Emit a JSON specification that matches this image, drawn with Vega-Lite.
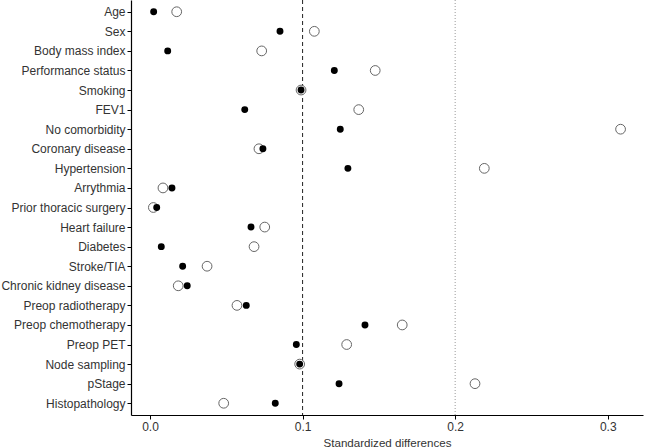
{
  "$schema": "https://vega.github.io/schema/vega-lite/v6.json",
  "autosize": {"type": "none"},
  "padding": {"left": 131, "top": 0, "right": 3, "bottom": 33},
  "width": 512,
  "height": 415,
  "background": "white",
  "config": {
    "view": {"stroke": null},
    "font": "Liberation Sans",
    "axis": {"grid": false, "domainColor": "black", "tickColor": "black", "labelColor": "#333333", "labelFontSize": 12, "titleFontSize": 11.6, "titleFontWeight": "normal", "titleColor": "#333333", "tickSize": 4, "domainWidth": 1.2}
  },
  "datasets": {
    "sd": [
      {"variable": "Age", "group": "before", "value": 0.0175},
      {"variable": "Age", "group": "after", "value": 0.0024},
      {"variable": "Sex", "group": "before", "value": 0.1077},
      {"variable": "Sex", "group": "after", "value": 0.0852},
      {"variable": "Body mass index", "group": "before", "value": 0.0732},
      {"variable": "Body mass index", "group": "after", "value": 0.0116},
      {"variable": "Performance status", "group": "before", "value": 0.1476},
      {"variable": "Performance status", "group": "after", "value": 0.1208},
      {"variable": "Smoking", "group": "before", "value": 0.099},
      {"variable": "Smoking", "group": "after", "value": 0.099},
      {"variable": "FEV1", "group": "before", "value": 0.1368},
      {"variable": "FEV1", "group": "after", "value": 0.0621},
      {"variable": "No comorbidity", "group": "before", "value": 0.3084},
      {"variable": "No comorbidity", "group": "after", "value": 0.1247},
      {"variable": "Coronary disease", "group": "before", "value": 0.0714},
      {"variable": "Coronary disease", "group": "after", "value": 0.074},
      {"variable": "Hypertension", "group": "before", "value": 0.2191},
      {"variable": "Hypertension", "group": "after", "value": 0.1297},
      {"variable": "Arrythmia", "group": "before", "value": 0.0085},
      {"variable": "Arrythmia", "group": "after", "value": 0.0144},
      {"variable": "Prior thoracic surgery", "group": "before", "value": 0.0022},
      {"variable": "Prior thoracic surgery", "group": "after", "value": 0.0044},
      {"variable": "Heart failure", "group": "before", "value": 0.0752},
      {"variable": "Heart failure", "group": "after", "value": 0.0662},
      {"variable": "Diabetes", "group": "before", "value": 0.0682},
      {"variable": "Diabetes", "group": "after", "value": 0.0074},
      {"variable": "Stroke/TIA", "group": "before", "value": 0.0374},
      {"variable": "Stroke/TIA", "group": "after", "value": 0.0214},
      {"variable": "Chronic kidney disease", "group": "before", "value": 0.0185},
      {"variable": "Chronic kidney disease", "group": "after", "value": 0.0244},
      {"variable": "Preop radiotherapy", "group": "before", "value": 0.057},
      {"variable": "Preop radiotherapy", "group": "after", "value": 0.0631},
      {"variable": "Preop chemotherapy", "group": "before", "value": 0.1653},
      {"variable": "Preop chemotherapy", "group": "after", "value": 0.1409},
      {"variable": "Preop PET", "group": "before", "value": 0.1289},
      {"variable": "Preop PET", "group": "after", "value": 0.0959},
      {"variable": "Node sampling", "group": "before", "value": 0.0981},
      {"variable": "Node sampling", "group": "after", "value": 0.0981},
      {"variable": "pStage", "group": "before", "value": 0.213},
      {"variable": "pStage", "group": "after", "value": 0.1239},
      {"variable": "Histopathology", "group": "before", "value": 0.0483},
      {"variable": "Histopathology", "group": "after", "value": 0.0821}
    ],
    "refs": [
      {"ref": 0.1, "kind": "dashed"},
      {"ref": 0.2, "kind": "dotted"}
    ]
  },
  "layer": [
    {
      "data": {"name": "refs"},
      "transform": [{"filter": "datum.kind === 'dashed'"}],
      "mark": {"type": "rule", "color": "#222222", "strokeDash": [4, 3], "strokeWidth": 1},
      "encoding": {"x": {"field": "ref", "type": "quantitative"}}
    },
    {
      "data": {"name": "refs"},
      "transform": [{"filter": "datum.kind === 'dotted'"}],
      "mark": {"type": "rule", "color": "#999999", "strokeDash": [1, 2], "strokeWidth": 1},
      "encoding": {"x": {"field": "ref", "type": "quantitative"}}
    },
    {
      "data": {"name": "sd"},
      "transform": [{"filter": "datum.group === 'before'"}],
      "mark": {"type": "point", "shape": "circle", "filled": false, "fill": "white", "fillOpacity": 1, "stroke": "#666666", "strokeWidth": 1, "size": 95, "opacity": 1},
      "encoding": {
        "x": {"field": "value", "type": "quantitative", "scale": {"domain": [-0.01245, 0.3231], "nice": false, "zero": false}, "axis": {"values": [0, 0.1, 0.2, 0.3], "format": ".1f", "title": "Standardized differences", "titlePadding": 5, "labelFontSize": 12}},
        "y": {"field": "variable", "type": "nominal", "sort": null, "scale": {"type": "point", "padding": 0.6}, "axis": {"title": null, "labelPadding": 2}}
      }
    },
    {
      "data": {"name": "sd"},
      "transform": [{"filter": "datum.group === 'after'"}],
      "mark": {"type": "circle", "color": "black", "size": 48, "opacity": 1},
      "encoding": {
        "x": {"field": "value", "type": "quantitative"},
        "y": {"field": "variable", "type": "nominal", "sort": null}
      }
    }
  ]
}
